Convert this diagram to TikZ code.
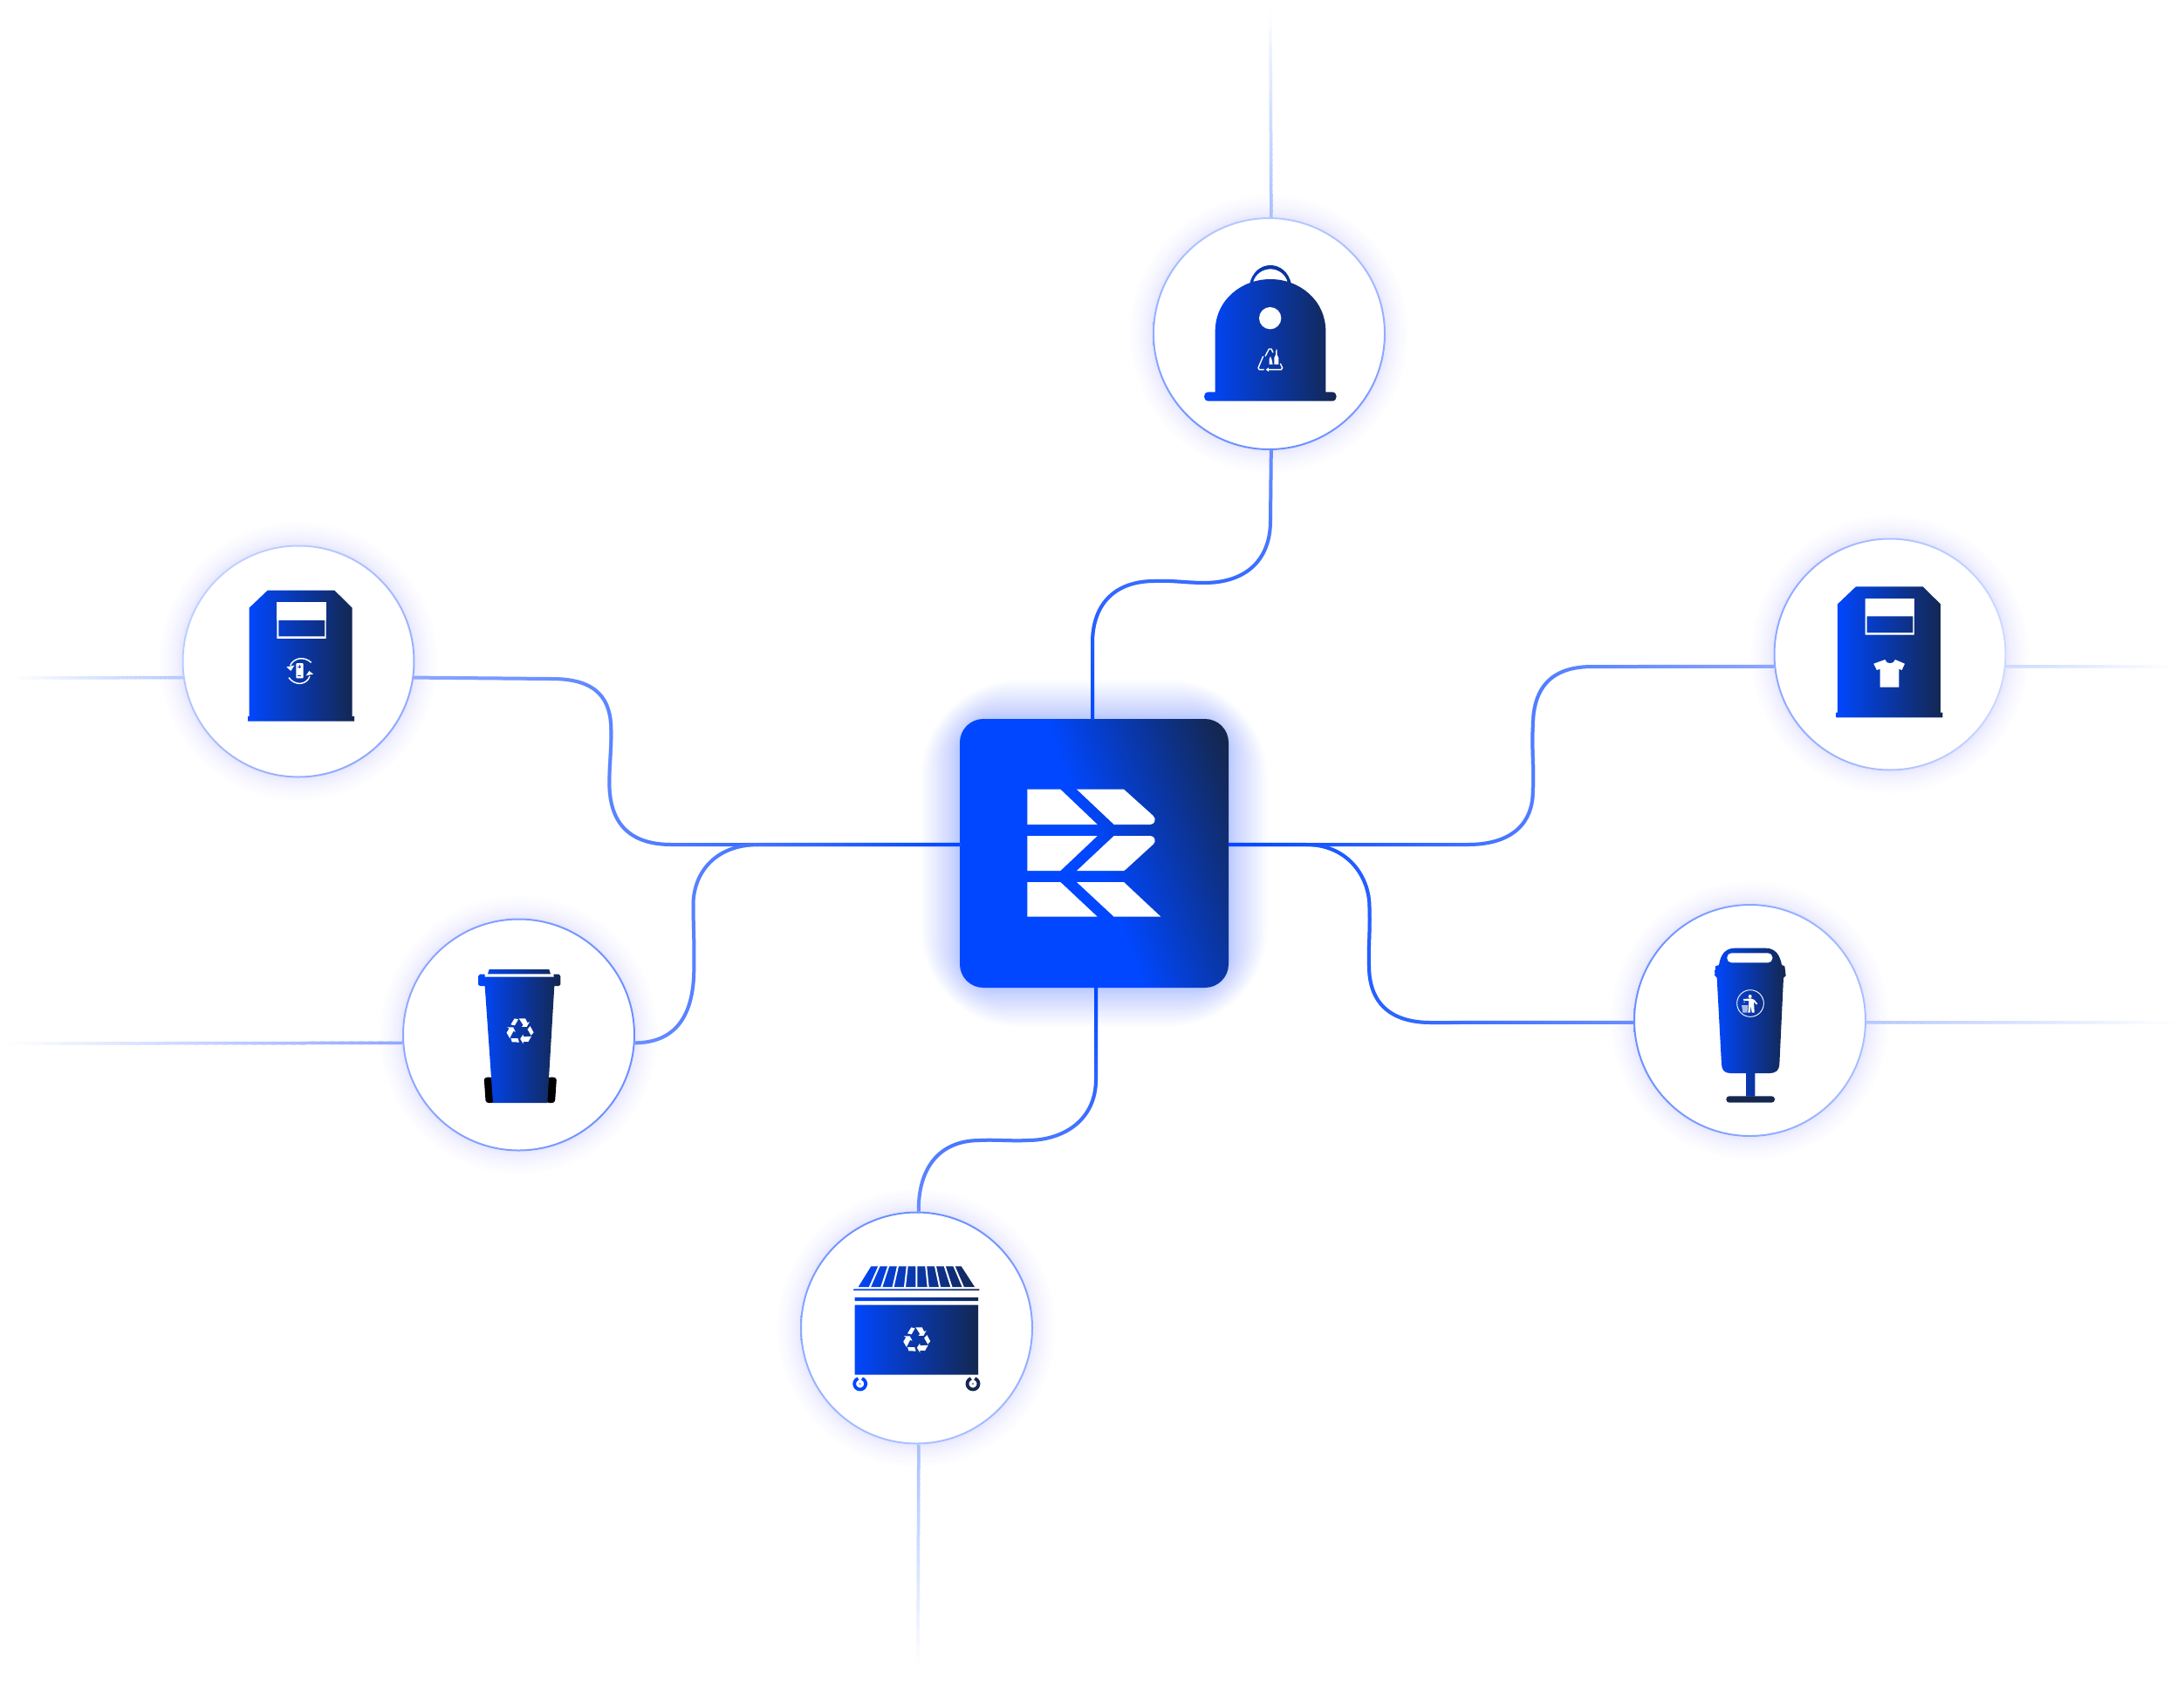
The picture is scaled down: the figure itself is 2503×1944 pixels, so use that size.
\documentclass[tikz,border=0pt]{standalone}
\usepackage{tikz}
\usetikzlibrary{calc,fadings}
\definecolor{binA}{HTML}{0047FF}
\definecolor{binB}{HTML}{14274F}
\definecolor{ringA}{HTML}{B5C8FF}
\definecolor{ringB}{HTML}{6B8FFF}
\definecolor{ringC}{HTML}{C0D0FF}
\definecolor{ringD}{HTML}{8FA8FF}
\definecolor{ringE}{HTML}{A8C0FF}
\definecolor{ringF}{HTML}{CCD9FF}
\definecolor{glowblue}{HTML}{2F62FF}
\pgfdeclarehorizontalshading{hubshade}{100bp}{color(0bp)=(binA); color(50bp)=(binA); color(80bp)=(binB); color(100bp)=(binB)}
\tikzfading[name=fadeup,bottom color=transparent!0,top color=transparent!100]
\tikzfading[name=fadedown,top color=transparent!0,bottom color=transparent!100]
\tikzfading[name=fadeleft,right color=transparent!0,left color=transparent!100]
\tikzfading[name=faderight,left color=transparent!0,right color=transparent!100]
\newcommand{\linkwire}[3]{\draw[wire,#1] #3; \draw[wire,binA,path fading=#2] #3;}
\newcommand{\fadestub}[3]{%
  \foreach \s in {0,...,39}{%
    \pgfmathsetmacro{\t}{\s/40}
    \pgfmathsetmacro{\u}{(\s+1.5)/40}
    \pgfmathtruncatemacro{\p}{100-2.5*\s}
    \draw[stub,color=#3!\p!white] ($(#1)!\t!(#2)$) -- ($(#1)!\u!(#2)$);
  }}
\newcommand{\recyclemark}[1]{%
  \foreach \a in {0,120,240}{
    \fill[white,shift={(#1)},rotate=\a] (-32,-22) -- (-19,-43) -- (-6,-40) -- (-18,-19) -- cycle;
    \fill[white,shift={(#1)},rotate=\a] (-4,-43) -- (18,-43) -- (26,-28) -- (33,-32) -- (23,-14) -- (5,-15) -- (11,-20) -- (2,-34) -- cycle;
  }}
\newcommand{\boxbin}{%
  \shade[binfill,even odd rule] (257,230) -- (320,170) -- (550,170) -- (611,230) -- (611,603) -- (618,603) -- (618,620) -- (252,620) -- (252,603) -- (257,603) -- cycle
    (352,211) rectangle (521,336) (358,272) rectangle (516,328);
  \fill[white] (352,211) rectangle (521,272);}
\begin{document}
\begin{tikzpicture}[x=1pt,y=-1pt]
\tikzset{ringnode/.style = {circle, fill=white, inner sep=0pt, outer sep=0pt, minimum size=267pt}}
\tikzset{hubnode/.style = {inner sep=0pt, outer sep=0pt, minimum size=308pt, rounded corners=27pt, shade, shading=hubshade, shading angle=20}}
\tikzset{wire/.style = {line width=4pt}}
\tikzset{stub/.style = {line width=3.5pt}}
\tikzset{binfill/.style = {left color=binA, right color=binB}}
\fill[white] (0,0) rectangle (2503,1944);
\useasboundingbox (0,0) rectangle (2503,1944);
% glow
\foreach \i in {1,...,36}{
	\pgfmathsetmacro{\d}{50*(\i/36)^2.2-6}
	\pgfmathsetmacro{\rc}{27+1.7*\d+10}
	\fill[glowblue,opacity=0.0155,rounded corners=\rc pt] (1100-\d,824-\d) rectangle (1408+\d,1132+\d);
}
\foreach \cx/\cy in {1454.5/382.5,342/758,594.5/1186,1050.5/1522,2005.5/1169.5,2166/750}{
	\foreach \i in {1,...,16}
		\fill[glowblue,opacity=0.0095] (\cx,\cy) circle ({132+27*(\i/16)^2.2});
}
% nodes
\node[hubnode] (hub) at (1254,978) {};
\foreach \nm/\cx/\cy/\ca/\cb/\ang in {lidbank/1454.5/382.5/ringA/ringB/0,battbin/342/758/ringC/ringD/45,wheelbin/594.5/1186/ringD/ringB/90,dumpster/1050.5/1522/ringB/ringE/0,kerbbin/2005.5/1169.5/ringB/ringE/90,shirtbin/2166/750/ringD/ringF/90}{
	\node[ringnode] (\nm) at (\cx,\cy) {};
	\shade[left color=\ca,right color=\cb,shading angle=\ang,even odd rule] (\nm.center) circle (133.5) (\nm.center) circle (131.5);
}
\coordinate (lidend) at (1456,15);
\coordinate (battend) at (16,777);
\coordinate (wheelend) at (16,1196);
\coordinate (dumpend) at (1052,1905);
\coordinate (kerbend) at (2490,1172);
\coordinate (shirtend) at (2490,764);
% connectors
\linkwire{ringB}{fadeup}{([xshift=-2pt]hub.north) -- (1252,737) .. controls (1252,690) and (1280,666) .. (1323,666) .. controls (1343,665) and (1360,668) .. (1380,668) .. controls (1430,668) and (1456,640) .. (1456,597) -- (lidbank.271)}
\linkwire{ringD}{fadeleft}{([yshift=10pt]hub.west) -- (770,968) .. controls (725,968) and (698.5,947) .. (698.5,897) .. controls (698.5,877) and (701,857) .. (700.5,837) .. controls (700.5,803) and (686,778) .. (633,778) -- (battbin.352)}
\linkwire{ringB}{fadeleft}{([yshift=10pt]hub.west) -- (870,968) .. controls (817,968) and (794.5,1003) .. (794.5,1037) .. controls (794.5,1060) and (796,1085) .. (795.3,1110) .. controls (795.3,1167) and (772,1195) .. (wheelbin.356)}
\linkwire{ringB}{fadedown}{([xshift=2pt]hub.south) -- (1256,1237) .. controls (1256,1283) and (1220,1307) .. (1177,1307) .. controls (1160,1308) and (1140,1306) .. (1123,1307) .. controls (1073,1307) and (1052,1343) .. (dumpster.89)}
\linkwire{ringB}{faderight}{([yshift=10pt]hub.east) -- (1497,968) .. controls (1543,968) and (1569.5,1003) .. (1569.5,1040) .. controls (1570.5,1067) and (1568,1087) .. (1569,1107) .. controls (1569,1150) and (1594,1172) .. (1640,1172) -- (kerbbin.181)}
\linkwire{ringD}{faderight}{([yshift=10pt]hub.east) -- (1682,968) .. controls (1737,968) and (1757,940) .. (1757,907) .. controls (1758.5,880) and (1755.5,857) .. (1757,833) .. controls (1757,787) and (1779,764) .. (1825,764) -- (shirtbin.186)}
\fadestub{lidbank.89}{lidend}{ringE}
\fadestub{battbin.188}{battend}{ringA}
\fadestub{wheelbin.184}{wheelend}{ringD}
\fadestub{dumpster.271}{dumpend}{ringE}
\fadestub{kerbbin.359}{kerbend}{ringA}
\fadestub{shirtbin.354}{shirtend}{ringF}
% hub mark
\begin{scope}[shift={(1060,790)},scale=1/3]
\fill[white] (352,344) -- (466,344) -- (593,465) -- (352,465) -- cycle;
\fill[white] (522,344) -- (684,344) -- (785,435) .. controls (797,446) and (790,465) .. (775,465) -- (650,465) -- cycle;
\fill[white] (352,504) -- (593,504) -- (466,624) -- (352,624) -- cycle;
\fill[white] (650,504) -- (775,504) .. controls (790,504) and (797,523) .. (785,533) -- (690,620) -- (684,624) -- (522,624) -- cycle;
\fill[white] (352,663) -- (466,663) -- (593,782) -- (352,782) -- cycle;
\fill[white] (522,663) -- (684,663) -- (811,782) -- (650,782) -- cycle;
\end{scope}
% bottle bank
\begin{scope}[shift={(1310,240)},scale=1/3]
\shade[binfill] (248,628) -- (248,420) .. controls (248,310) and (340,240) .. (438,240) .. controls (536,240) and (628,310) .. (628,420) -- (628,628) -- (650,628) .. controls (670,628) and (670,659) .. (650,659) -- (225,659) .. controls (205,659) and (205,628) .. (225,628) -- cycle
	(366,258) .. controls (375,215) and (405,192) .. (438,192) .. controls (471,192) and (501,215) .. (510,258) -- (498,252) .. controls (490,222) and (465,205) .. (438,205) .. controls (411,205) and (386,222) .. (378,250) -- cycle;
\fill[white] (437,374) circle (38);
\draw[white,line width=1.4pt,line join=round] (413,505) -- (396,545) -- (400,551) -- (416,551);
\draw[white,line width=1.4pt,line join=round] (426,551) -- (475,551) -- (479,545) -- (472,530);
\draw[white,line width=1.4pt,line join=round] (420,505) -- (433,480) -- (441,480) -- (447,492);
\fill[white] (422,551) -- (432,544) -- (432,558) -- cycle;
\fill[white] (434,533) -- (434,515) -- (438,505) -- (442,515) -- (446,533) -- cycle;
\fill[white] (451,533) -- (451,510) -- (456,500) -- (457,482) -- (461,482) -- (461,500) -- (466,510) -- (466,533) -- cycle;
\end{scope}
% battery bin
\begin{scope}[shift={(200,620)},scale=1/3]
\boxbin
\fill[white,rounded corners=1pt] (418,420) rectangle (443,472);
\draw[binA!70!binB,line width=0.6pt] (424,433) -- (436,433) (430,427) -- (430,439) (424,463) -- (436,463);
\draw[white,line width=1.5pt] (470,418) .. controls (445,395) and (410,402) .. (398,428);
\fill[white] (385,433) -- (412,428) -- (400,447) -- cycle;
\draw[white,line width=1.5pt] (393,470) .. controls (415,500) and (455,495) .. (465,465);
\fill[white] (452,463) -- (477,458) -- (463,447) -- cycle;
\end{scope}
% shirt bin
\begin{scope}[shift={(2020.3,615.7)},scale=1/3]
\boxbin
\fill[white] (420,421) .. controls (425,438) and (450,438) .. (455,421) -- (488,435) -- (478,457) -- (468,453) -- (468,516) -- (403,516) -- (403,453) -- (392,457) -- (381,435) -- cycle;
\end{scope}
% wheelie bin
\begin{scope}[shift={(450,1045)},scale=1/3]
\fill[black,rounded corners=3pt] (314,570) -- (342,568) -- (350,657) -- (320,657) -- cycle;
\fill[black,rounded corners=3pt] (535,568) -- (564,570) -- (558,657) -- (528,657) -- cycle;
\shade[binfill] (300,215) -- (317,215) -- (317,224) -- (555,224) -- (553,215) -- (572,215) -- (577,222) -- (577,250) -- (572,255) -- (556,255) -- (532,657) -- (345,657) -- (317,255) -- (300,255) -- (294,250) -- (294,222) -- cycle
	(332,198) -- (538,198) -- (543,214) -- (327,214) -- cycle;
\recyclemark{438,410}
\end{scope}
% dumpster
\begin{scope}[shift={(905,1380)},scale=1/3]
\shade[binfill] (280,214) -- (590,214) -- (636,285) -- (236,285) -- cycle
	(220,292) rectangle (652,297)
	(224,321) rectangle (648,333)
	(224,347) rectangle (648,587);
\foreach \i in {0,...,8}
	\draw[white,line width=2pt] (\i*32.1+308,212) -- (\i*40.25+275,287);
\recyclemark{437,467}
\draw[binA,line width=3.8pt] (242,618) ++(-70:19.5) arc (-70:250:19.5);
\fill[binA] (242,618) circle (2.5);
\draw[binB,line width=3.8pt] (630,618) ++(-70:19.5) arc (-70:250:19.5);
\fill[binB] (630,618) circle (2.5);
\end{scope}
% kerbside bin
\begin{scope}[shift={(1860,1030)},scale=1/3]
\shade[binfill] (385,170) -- (490,170) .. controls (525,170) and (540,195) .. (546,228) -- (556,232) -- (560,265) -- (552,272) -- (538,570) .. controls (537,590) and (525,600) .. (505,600) -- (454,600) -- (454,680) -- (423,680) -- (423,600) -- (370,600) .. controls (350,600) and (340,590) .. (339,570) -- (323,272) -- (316,265) -- (318,232) -- (330,228) .. controls (335,195) and (350,170) .. (385,170) -- cycle;
\fill[binB,rounded corners=3.5pt] (355,679) rectangle (522,701);
\fill[white,rounded corners=5pt] (358,187) rectangle (514,220);
\draw[white,line width=0.9pt] (438,360) circle (46);
\fill[white] (437,336) circle (6);
\fill[white] (414,345) -- (440,343) -- (452,348) -- (463,362) -- (458,364) -- (450,354) -- (452,392) -- (443,392) -- (440,368) -- (437,392) -- (430,392) -- (433,352) -- (414,350) -- cycle;
\fill[white,opacity=0.65] (408,366) -- (430,366) -- (427,392) -- (412,392) -- cycle;
\fill[white] (417,356) circle (2);
\end{scope}
\end{tikzpicture}
\end{document}
